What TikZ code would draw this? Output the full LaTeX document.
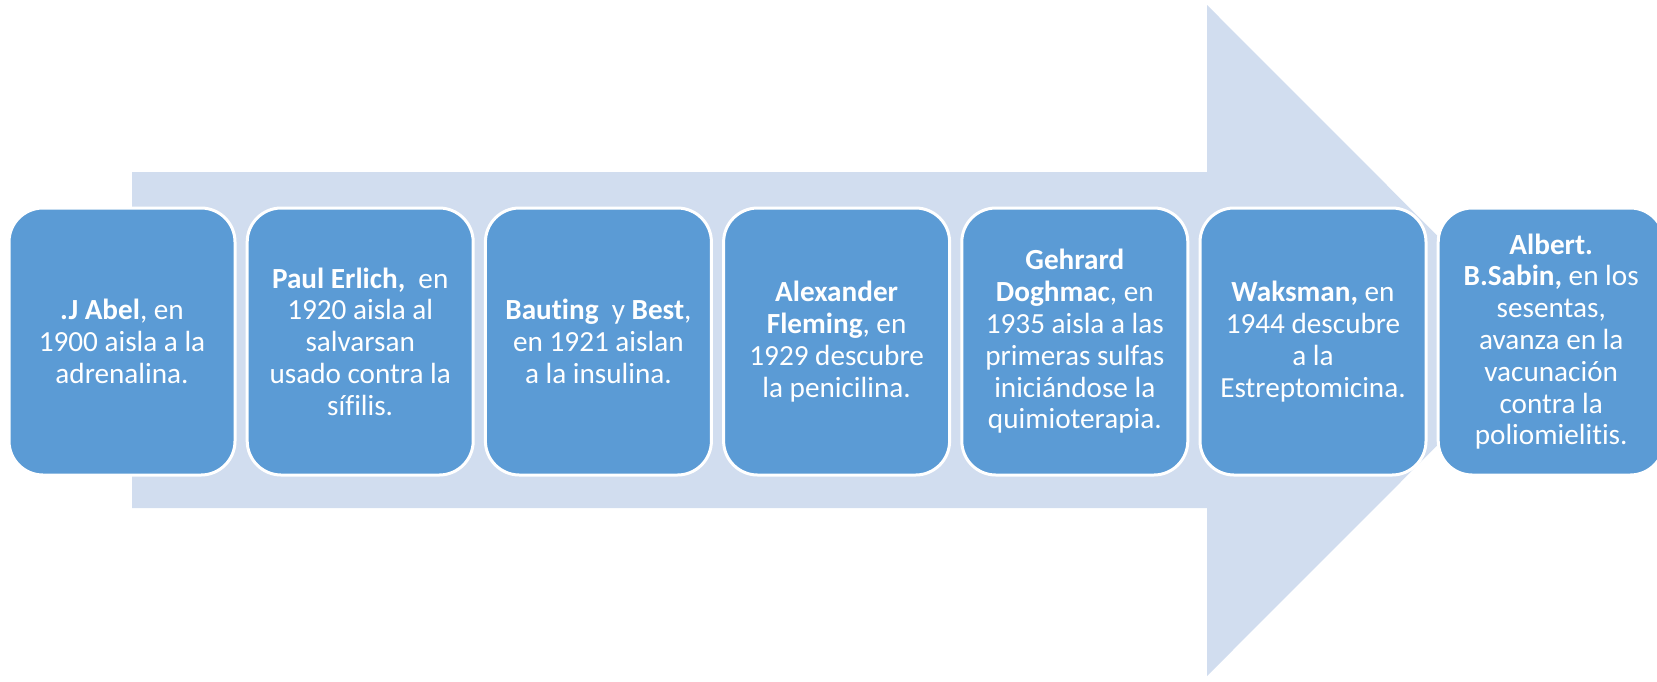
\documentclass[tikz,border=0pt]{standalone}
\usepackage{fontspec}
\setmainfont{Carlito}[Ligatures=NoCommon]
\definecolor{boxblue}{HTML}{5B9BD5}
\definecolor{bandblue}{RGB}{209,221,239}
\begin{document}
\begin{tikzpicture}[x=0.5pt,y=-0.5pt,
  stepbox/.style={draw=white, line width=1.5pt, fill=boxblue, rounded corners=17pt,
    minimum width=113pt, minimum height=133.5pt, inner sep=0pt, text=white,
    align=center, font=\fontsize{14.6}{15.9}\selectfont}]
\useasboundingbox (0,0) rectangle (1657,681);
\clip (0,0) rectangle (1657,681);
\fill[bandblue] (132,172) -- (1207,172) -- (1207,5) -- (1542,340.5) -- (1207,676) -- (1207,508) -- (132,508) -- cycle;
\node[stepbox] (b1) at (122,341.5) {\textbf{.J Abel}, en\\1900 aisla a la\\adrenalina.};
\node[stepbox] (b2) at (360.2,341.5) {\textbf{Paul Erlich,}\ \ en\\1920 aisla al\\salvarsan\\usado contra la\\sífilis.};
\node[stepbox] (b3) at (598.4,341.5) {\textbf{Bauting}\ \ y \textbf{Best},\\en 1921 aislan\\a la insulina.};
\node[stepbox] (b4) at (836.6,341.5) {\textbf{Alexander}\\\textbf{Fleming}, en\\1929 descubre\\la penicilina.};
\node[stepbox] (b5) at (1074.8,341.5) {\textbf{Gehrard}\\\textbf{Doghmac}, en\\1935 aisla a las\\primeras sulfas\\iniciándose la\\quimioterapia.};
\node[stepbox] (b6) at (1313,341.5) {\textbf{Waksman,} en\\1944 descubre\\a la\\Estreptomicina.};
\node[stepbox] (b7) at (1551.2,341.5) {\textbf{Albert.}\\\textbf{B.Sabin,} en los\\sesentas,\\avanza en la\\vacunación\\contra la\\poliomielitis.};
\end{tikzpicture}
\end{document}
